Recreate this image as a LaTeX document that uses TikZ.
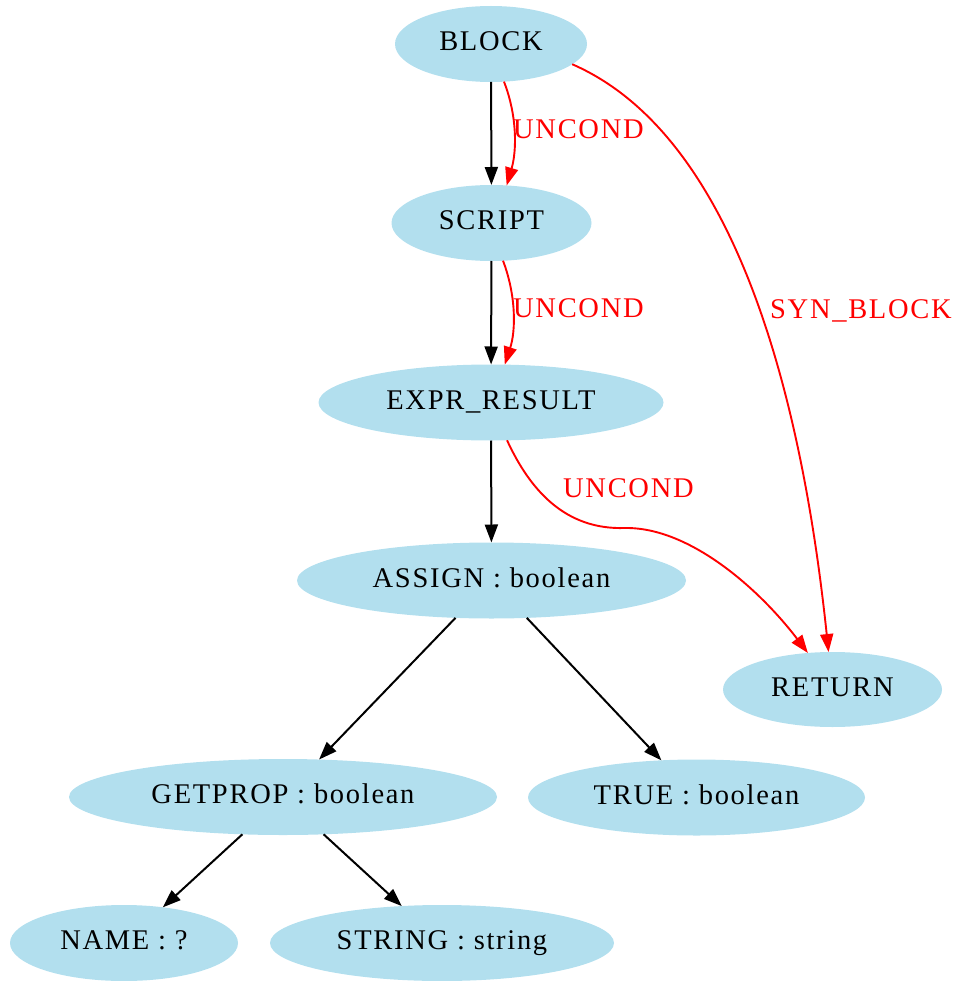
\documentclass[tikz,border=0pt]{standalone}
\usepackage{fontspec}
\setmainfont{Liberation Serif}[LetterSpace=6]
\usetikzlibrary{arrows.meta,shapes.geometric}
\definecolor{nodefill}{HTML}{B2DFEE}
\tikzset{
  gnode/.style={ellipse, fill=nodefill, draw=none, inner sep=0pt, outer sep=0pt,
    minimum height=76pt, text height=19pt, text depth=6pt,
    font=\fontsize{28.5}{34}\selectfont},
  tree/.style={draw=black, line width=2pt, -{Triangle[length=18pt,width=13pt]}},
  flow/.style={draw=red, line width=1.9pt, -{Triangle[length=18pt,width=13pt]}},
  flabel/.style={text=red, inner sep=0pt, anchor=base west, font=\fontsize{28.5}{34}\selectfont}
}
\begin{document}
\begin{tikzpicture}[x=1pt,y=-1pt]
\useasboundingbox (0,0) rectangle (958,981);
\node[gnode, minimum width=192pt] (block) at (491,44) {BLOCK};
\node[gnode, minimum width=200pt] (script) at (491.5,223) {SCRIPT};
\node[gnode, minimum width=345pt] (expr) at (491,402.5) {EXPR\_RESULT};
\node[gnode, minimum width=389pt] (assign) at (491.5,580.5) {ASSIGN : boolean};
\node[gnode, minimum width=219pt, minimum height=75pt] (ret) at (832.5,689.5) {RETURN};
\node[gnode, minimum width=428pt] (getprop) at (283,797) {GETPROP : boolean};
\node[gnode, minimum width=337pt] (truen) at (696.5,797.5) {TRUE : boolean};
\node[gnode, minimum width=228pt] (name) at (124,943) {NAME : ?};
\node[gnode, minimum width=344pt] (string) at (442,943) {STRING : string};

% tree edges
\draw[tree] (block) -- (script);
\draw[tree] (script) -- (expr);
\draw[tree] (expr) -- (assign);
\draw[tree] (assign) -- (getprop);
\draw[tree] (assign) -- (truen);
\draw[tree] (getprop) -- (name);
\draw[tree] (getprop) -- (string);

% control flow edges
\draw[flow] (block.-71) .. controls (517,115) and (517,150) .. (script.68);
\draw[flow] (script.-73) .. controls (516,295) and (516,330) .. (expr.70);
\draw[flow] (block.-14) .. controls (730,133) and (800,380) .. (ret);
\draw[flow] (expr.-67) .. controls (530,490) and (565,530) .. (625,528)
  .. controls (690,527) and (760,590) .. (ret.124);

% labels
\node[flabel] (l1) at (513,139) {UNCOND};
\node[flabel] (l2) at (513,317) {UNCOND};
\node[flabel] (l3) at (563,497) {UNCOND};
\node[flabel] (l4) at (770,318) {SYN\_BLOCK};
\end{tikzpicture}
\end{document}
